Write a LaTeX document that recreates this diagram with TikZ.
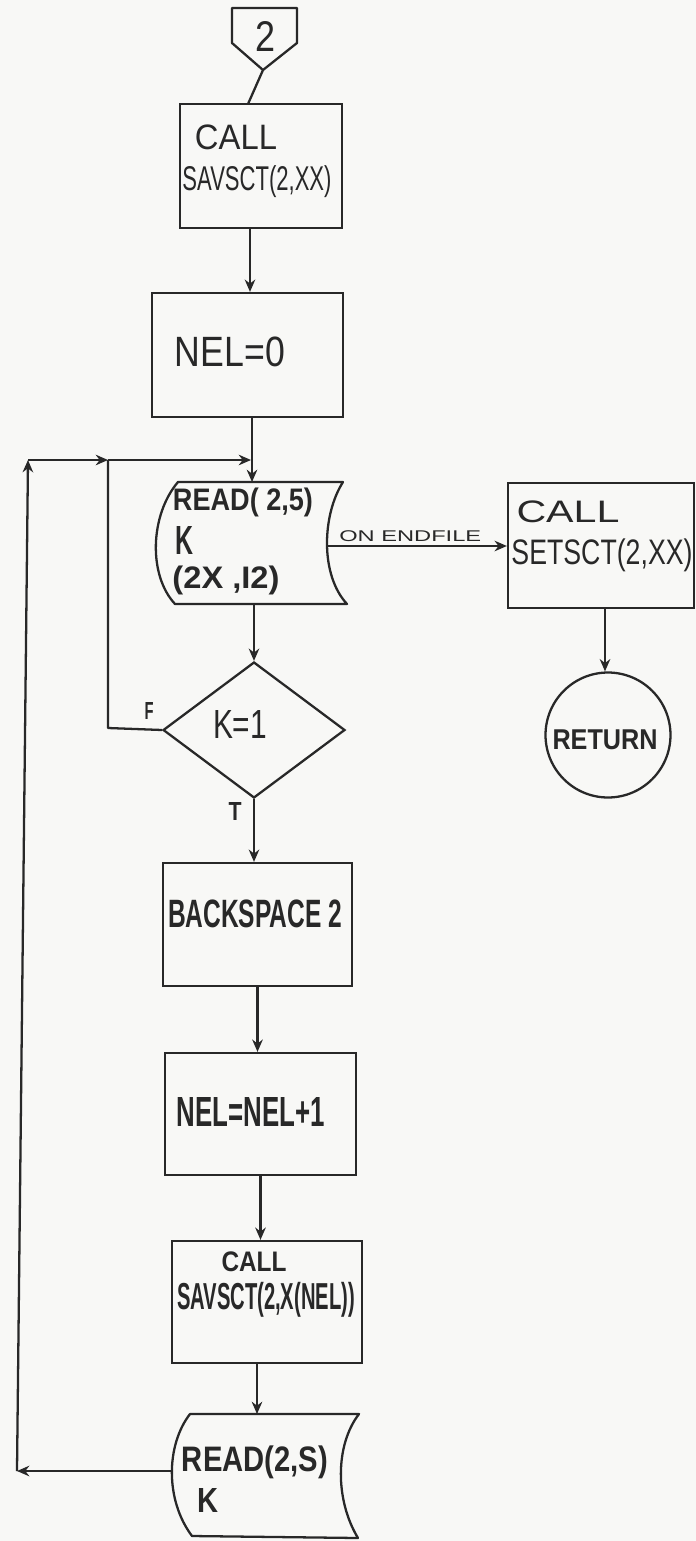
\documentclass[tikz,border=0pt]{standalone}
\usepackage{fontspec}
\setmainfont{Liberation Sans}
\usepackage{graphicx}
\usetikzlibrary{shapes.geometric,arrows.meta}
\definecolor{paper}{RGB}{248,248,246}
\definecolor{ink}{RGB}{40,40,40}
\newlength{\pxl}\setlength{\pxl}{0.02cm}
\newcommand{\fitt}[3]{\resizebox*{#1\pxl}{#2\pxl}{#3}}
\tikzset{
  ln/.style={draw=ink, line width=1.3pt, line join=round},
  arr/.style={ln, -{Stealth[length=7pt,width=6pt]}},
  pbox/.style={draw=ink, line width=1.3pt, rectangle, inner sep=0pt},
  txt/.style={inner sep=0pt, text=ink, anchor=center},
  btxt/.style={txt, font=\bfseries},
}
\begin{document}
\begin{tikzpicture}[x=0.02cm, y=-0.02cm]
\fill[paper] (0,0) rectangle (696,1541);
\useasboundingbox (0,0) rectangle (696,1541);

% off-page connector "2"
\draw[ln] (232,8) -- (297,8) -- (297,43) -- (263,70) -- (232,43) -- cycle;
\node[txt] (c2t) at (265,37) {\fitt{20}{30}{2}};
\coordinate (c2p) at (263,70);

% CALL SAVSCT(2,XX)
\node[pbox, minimum width=3.24cm, minimum height=2.48cm] (b1) at (261,166) {};
\node[txt] (b1a) at (236,137) {\fitt{82}{25}{CALL}};
\node[txt] (b1b) at (257,182) {\fitt{149}{32}{SAVSCT(2,XX)}};
\coordinate (b1in) at (248,104);
\coordinate (b1o) at (250,228);

% NEL=0
\node[pbox, minimum width=3.82cm, minimum height=2.48cm] (b2) at (247.5,355) {};
\node[txt] (b2a) at (230,352) {\fitt{110}{30}{NEL=0}};
\coordinate (b2o) at (252,417);

% READ(2,5) K (2X,I2)
\draw[ln] (178,482) -- (343,482) .. controls (322,515) and (320,575) .. (347,604)
  -- (175,604) .. controls (148,575) and (150,515) .. (178,482) -- cycle;
\node[btxt] (r1a) at (243,502) {\fitt{140}{29}{READ( 2,5)}};
\node[btxt] (r1b) at (184,540) {\fitt{18}{28}{K}};
\node[btxt] (r1c) at (226,580) {\fitt{107}{29}{(2X ,I2)}};
\coordinate (r1n) at (252,482);
\coordinate (r1s) at (254,604);
\coordinate (r1e) at (328,546);

% CALL SETSCT(2,XX)
\node[pbox, minimum width=3.72cm, minimum height=2.5cm] (st) at (601,545.5) {};
\node[txt] (sta) at (568,512) {\fitt{103}{22}{CALL}};
\node[txt] (stb) at (602,555) {\fitt{181}{33}{SETSCT(2,XX)}};
\coordinate (sto) at (605,608);

% RETURN
\node[draw=ink, line width=1.3pt, circle, minimum size=2.5cm, inner sep=0pt] (ret) at (608,735) {};
\node[btxt] (reta) at (605,740) {\fitt{105}{20}{RETURN}};

% K=1 decision
\node[draw=ink, line width=1.3pt, diamond, minimum width=3.64cm, minimum height=2.72cm, inner sep=0pt] (dia) at (254,730) {};
\node[txt] (diaa) at (240,724) {\fitt{54}{28}{K=1}};
\node[btxt] (lf) at (149,711) {\fitt{9}{17}{F}};
\node[btxt] (lt) at (235,811) {\fitt{13}{18}{T}};

% BACKSPACE 2
\node[pbox, minimum width=3.78cm, minimum height=2.46cm] (bk) at (257.5,924.5) {};
\node[btxt] (bka) at (255,914) {\fitt{174}{28}{BACKSPACE 2}};

% NEL=NEL+1
\node[pbox, minimum width=3.82cm, minimum height=2.44cm] (np) at (260.5,1114) {};
\node[btxt] (npa) at (251,1112) {\fitt{148}{29}{NEL=NEL+1}};

% CALL SAVSCT(2,X(NEL))
\node[pbox, minimum width=3.80cm, minimum height=2.44cm] (cb) at (267,1302) {};
\node[btxt] (cba) at (254,1262) {\fitt{65}{20}{CALL}};
\node[btxt] (cbb) at (266,1300) {\fitt{178}{35}{SAVSCT(2,X(NEL))}};
\coordinate (cbo) at (257,1363);

% READ(2,S) K
\draw[ln] (190,1414) -- (359,1414) .. controls (335,1445) and (335,1500) .. (358,1538)
  -- (192,1536) .. controls (165,1500) and (166,1445) .. (190,1414) -- cycle;
\node[btxt] (r2a) at (255,1462) {\fitt{146}{33}{READ(2,S)}};
\node[btxt] (r2b) at (208,1500) {\fitt{21}{24}{K}};
\coordinate (r2n) at (257,1414);
\coordinate (r2w) at (172,1471);

% loop coordinates
\coordinate (cbl) at (17,1471);
\coordinate (ctl) at (28,460);
\coordinate (jn) at (108,460);
\coordinate (ain) at (251,460);
\coordinate (fc) at (108,728);

% connectors
\draw[ln] (c2p) -- (b1in);
\draw[arr] (b1o) -- (b1o |- b2.north);
\draw[arr] (b2o) -- (r1n);
\draw[arr] (r1e) -- node[txt, pos=0.46, anchor=south, yshift=2pt] (lend) {\fitt{142}{11}{ON ENDFILE}} (st.west |- r1e);
\draw[arr] (sto) -- (sto |- ret.north);
\draw[arr] (r1s) -- (dia.north);
\draw[ln] (dia.west) -- (fc) -- (jn);
\draw[arr] (dia.south) -- (dia.south |- bk.north);
\draw[arr] (bk.south) -- (bk.south |- np.north);
\draw[arr] (np.south) -- (np.south |- cb.north);
\draw[arr] (cbo) -- (r2n);
\draw[arr] (r2w) -- (cbl);
\draw[arr] (cbl) -- (ctl);
\draw[arr] (ctl) -- (jn);
\draw[arr] (jn) -- (ain);
\end{tikzpicture}
\end{document}
